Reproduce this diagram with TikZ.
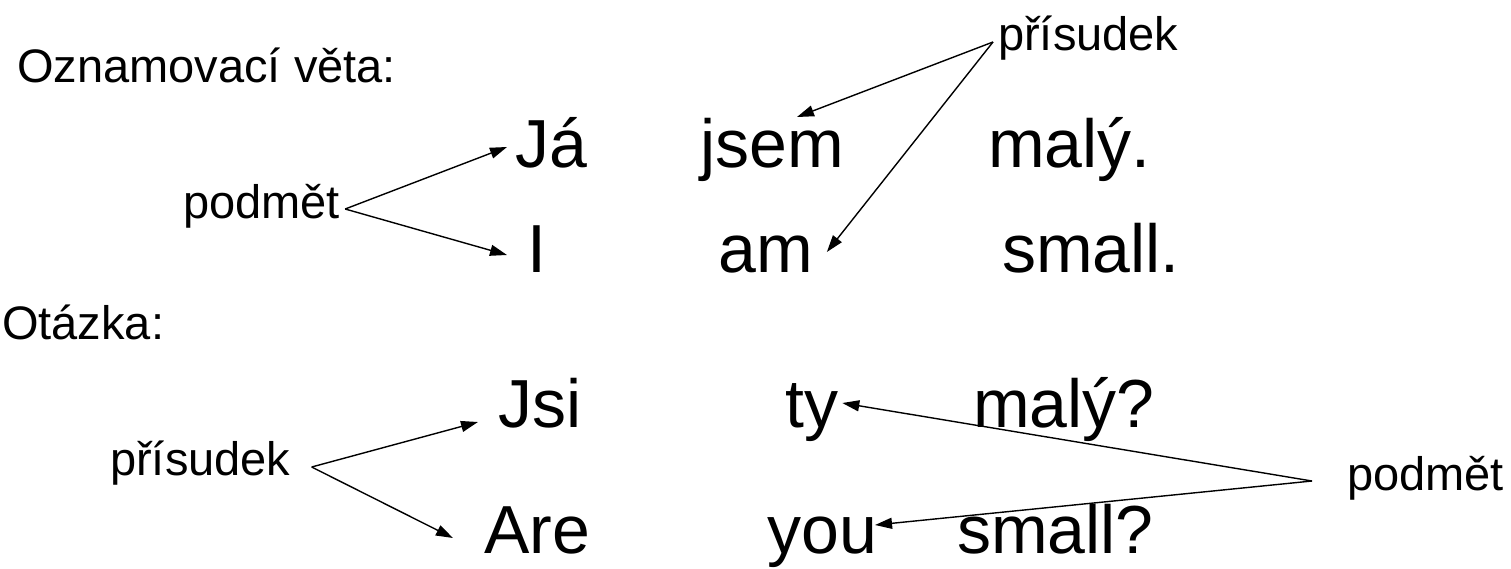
\documentclass[tikz,border=0pt]{standalone}
\usepackage{fontspec}
\setmainfont{Liberation Sans}
\usetikzlibrary{arrows.meta}

\begin{document}
\begin{tikzpicture}[x=1pt, y=-1pt,
		lbl/.style={anchor=base west, inner sep=0pt, font=\fontsize{47}{56}\selectfont},
		word/.style={anchor=base west, inner sep=0pt, font=\fontsize{68}{80}\selectfont},
		arr/.style={-{Triangle[length=17pt,width=11pt]}, line width=1.4pt}]
		\useasboundingbox (0,0) rectangle (1511,568);

		\node [lbl] (oznam) at (17,82) {Oznamovací věta:};
		\node [lbl] (prisA) at (998,50) {přísudek};
		\node [lbl] (podmetA) at (183,218) {podmět};
		\node [word] (ja) at (515,167) {Já};
		\node [word] (jsem) at (700,167) {jsem};
		\node [word] (malyA) at (988,167) {malý.};
		\node [word] (i) at (527,272) {I};
		\node [word] (am) at (718,272) {am};
		\node [word] (smallA) at (1002,272) {small.};

		\node [lbl] (otazka) at (2,339) {Otázka:};
		\node [lbl] (prisB) at (110,475) {přísudek};
		\node [lbl] (podmetB) at (1347,490) {podmět};
		\node [word] (jsi) at (498,427) {Jsi};
		\node [word] (ty) at (785,427) {ty};
		\node [word] (malyB) at (973,427) {malý?};
		\node [word] (are) at (484,553) {Are};
		\node [word] (you) at (767,553) {you};
		\node [word] (smallB) at (957,553) {small?};

		\draw [arr] ([shift={(5,-9)}]podmetA.base east) -- ([shift={(-8,-20)}]ja.base west);
		\draw [arr] ([shift={(5,-9)}]podmetA.base east) -- ([shift={(-20,-17)}]i.base west);
		\draw [arr] ([shift={(-5,-8)}]prisA.base west) -- ([shift={(-47,-50)}]jsem.base east);
		\draw [arr] ([shift={(-5,-8)}]prisA.base west) -- ([shift={(14,-20)}]am.base east);

		\draw [arr] ([shift={(21,-8)}]prisB.base east) -- ([shift={(-20,-5)}]jsi.base west);
		\draw [arr] ([shift={(21,-8)}]prisB.base east) -- ([shift={(-31,-15)}]are.base west);
		\draw [arr] ([shift={(-35,-9)}]podmetB.base west) -- ([shift={(4,-24)}]ty.base east);
		\draw [arr] ([shift={(-35,-9)}]podmetB.base west) -- ([shift={(-2,-28)}]you.base east);

	\end{tikzpicture}
\end{document}
